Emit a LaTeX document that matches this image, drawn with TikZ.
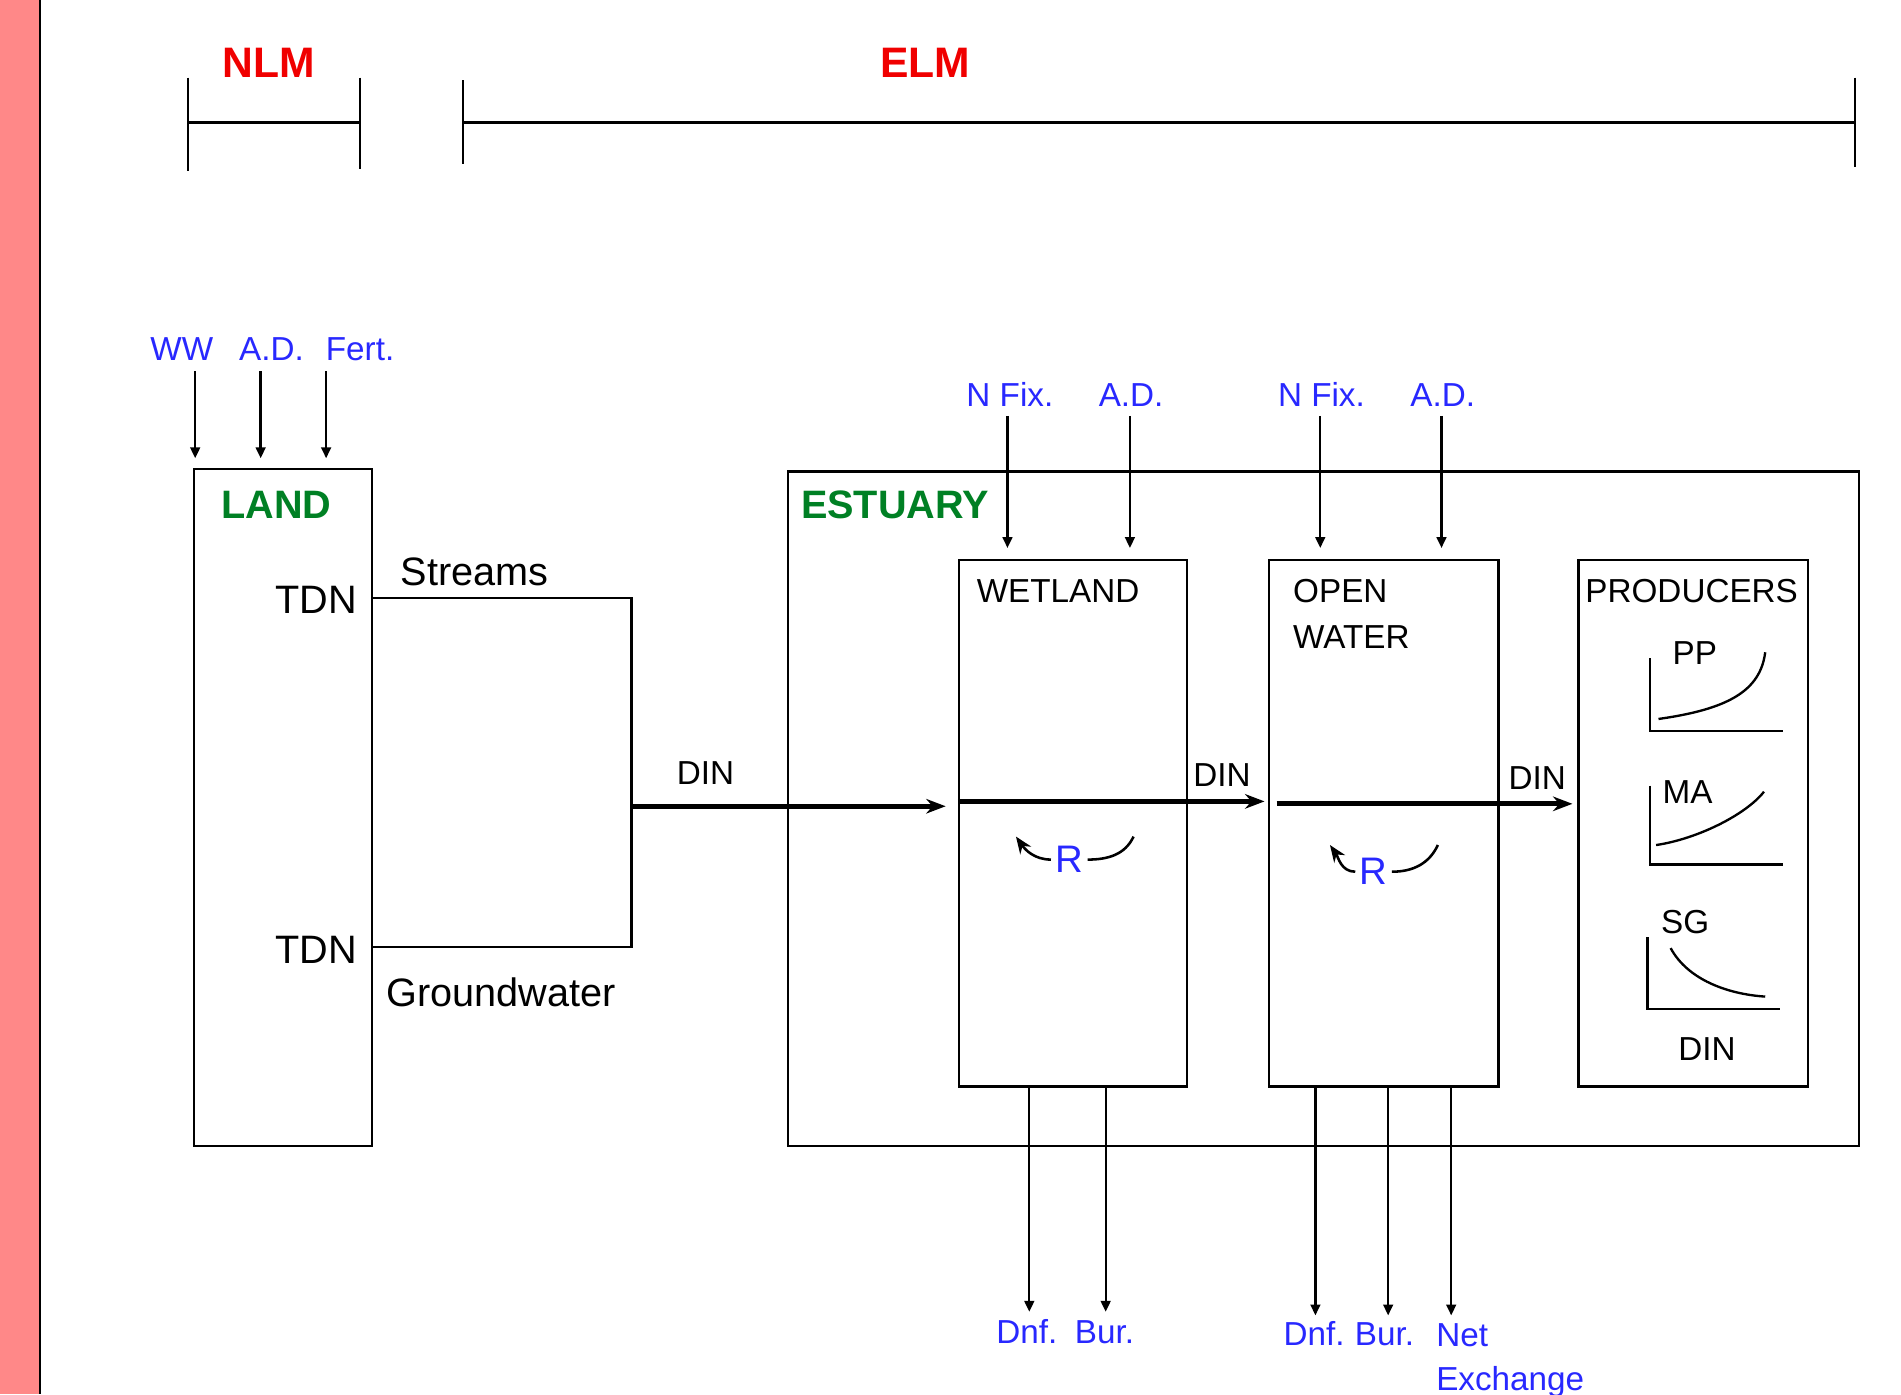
\documentclass[tikz,border=0pt]{standalone}
\usepackage{fontspec}
\setmainfont{Liberation Sans}
\usetikzlibrary{arrows.meta, positioning, calc}

\definecolor{bandpink}{RGB}{255,136,136}
\definecolor{modelred}{RGB}{240,0,0}
\definecolor{poolgreen}{RGB}{0,128,36}
\definecolor{fluxblue}{RGB}{40,40,255}

\begin{document}
\begin{tikzpicture}[x=0.01cm, y=-0.01cm,
        box/.style={rectangle, draw=black, line width=0.55pt, inner sep=0pt, anchor=north west},
        lbl/.style={font=\fontsize{7.8}{9}\selectfont, inner sep=0pt, anchor=base},
        big/.style={font=\fontsize{9.3}{11}\selectfont, inner sep=0pt},
        flux/.style={lbl, text=fluxblue},
        pool/.style={font=\fontsize{9.3}{11}\selectfont\bfseries, text=poolgreen, inner sep=0pt, anchor=base west},
        model/.style={font=\fontsize{10}{12}\selectfont\bfseries, text=modelred, inner sep=0pt, anchor=base},
        thin line/.style={line width=0.55pt},
        inflow/.style={-{Triangle[length=0.9mm, width=0.8mm]}, line width=0.55pt},
        flow/.style={-{Stealth[length=1.6mm, width=1.2mm]}, line width=1.2pt},
        recyc/.style={-{Stealth[length=1.4mm, width=1.1mm]}, line width=0.6pt},
    ]
    \useasboundingbox (0,0) rectangle (1568,1150);
    \fill[bandpink] (0,0) rectangle (33,1150);
    \draw[line width=0.6pt] (33,0) -- (33,1150);

    % model extents
    \node[model] (nlm) at (222,64) {NLM};
    \node[model] (elm) at (763,64) {ELM};
    \draw[thin line] (155,64) -- (155,141);
    \draw[thin line] (297,64) -- (297,139);
    \draw[thin line] (155,101) -- (297,101);
    \draw[thin line] (382,66) -- (382,135);
    \draw[thin line] (1530,64) -- (1530,138);
    \draw[thin line] (382,101) -- (1530,101);

    % boxes
    \node[box, minimum width=1.47cm, minimum height=5.58cm] (land) at (159,386) {};
    \node[box, minimum width=8.83cm, minimum height=5.56cm] (est) at (649,388) {};
    \node[box, minimum width=1.88cm, minimum height=4.34cm] (wet) at (790,461) {};
    \node[box, minimum width=1.89cm, minimum height=4.34cm] (ow) at (1046,461) {};
    \node[box, minimum width=1.89cm, minimum height=4.34cm] (prod) at (1301,461) {};

    \node[pool] (landlbl) at (182,428) {LAND};
    \node[pool] (estlbl) at (660,428) {ESTUARY};
    \node[lbl, anchor=base west] (wetlbl) at (805,497) {WETLAND};
    \node[lbl, anchor=base west] (owlbl) at (1066,497) {OPEN};
    \node[lbl, anchor=base west] (owlbl2) at (1066,535) {WATER};
    \node[lbl, anchor=base west] (prodlbl) at (1307,497) {PRODUCERS};

    % inputs to land
    \node[flux] (ww) at (150,297) {WW};
    \node[flux] (adland) at (224,297) {A.D.};
    \node[flux] (fert) at (297,297) {Fert.};
    \coordinate (wwin) at (161,306);
    \coordinate (adin) at (215,306);
    \coordinate (fertin) at (269,306);
    \draw[inflow, shorten >=0.8mm] (wwin) -- (wwin |- land.north);
    \draw[inflow, shorten >=0.8mm] (adin) -- (adin |- land.north);
    \draw[inflow, shorten >=0.8mm] (fertin) -- (fertin |- land.north);

    % streams and groundwater
    \node[big, anchor=base east] (tdnup) at (295,506) {TDN};
    \node[big, anchor=base east] (tdnlow) at (295,795) {TDN};
    \node[big, anchor=base west] (stream) at (330,483) {Streams};
    \node[big, anchor=base west] (gw) at (318,830) {Groundwater};
    \coordinate (sup) at (521,493);
    \coordinate (gdown) at (521,781);
    \coordinate (junc) at (521,665);
    \draw[thin line] (land.east |- sup) -- (sup) -- (gdown) -- (land.east |- gdown);
    \draw[flow, shorten >=1mm] (junc) -- (wet.west |- junc);
    \node[lbl] (din1) at (582,647) {DIN};

    % inputs to estuary
    \node[flux] (nfixw) at (833,335) {N Fix.};
    \node[flux] (adw) at (933,335) {A.D.};
    \node[flux] (nfixo) at (1090,335) {N Fix.};
    \node[flux] (ado) at (1190,335) {A.D.};
    \coordinate (nfixwin) at (831,343);
    \coordinate (adwin) at (932,343);
    \coordinate (nfixoin) at (1089,343);
    \coordinate (adoin) at (1189,343);
    \draw[inflow, shorten >=0.9mm] (nfixwin) -- (nfixwin |- wet.north);
    \draw[inflow, shorten >=0.9mm] (adwin) -- (adwin |- wet.north);
    \draw[inflow, shorten >=0.9mm] (nfixoin) -- (nfixoin |- ow.north);
    \draw[inflow, shorten >=0.9mm] (adoin) -- (adoin |- ow.north);

    % DIN through the estuary
    \coordinate (dinw) at (790,661);
    \coordinate (dino) at (1053,663);
    \draw[flow, shorten >=0.3mm] (dinw) -- (ow.west |- dinw);
    \draw[flow, shorten >=0.4mm] (dino) -- (prod.west |- dino);
    \node[lbl] (din2) at (1008,649) {DIN};
    \node[lbl] (din3) at (1268,651) {DIN};

    % recycling
    \node[flux, font=\fontsize{9}{10}\selectfont, anchor=center] (rwet) at (882,709) {R};
    \node[flux, font=\fontsize{9}{10}\selectfont, anchor=center] (row) at (1133,719) {R};
    \draw[line width=0.6pt] (935,690) to[out=-115, in=0] ([xshift=0.03cm]rwet.east);
    \draw[recyc] ([xshift=-0.03cm]rwet.west) to[out=180, in=-55] (838,690);
    \draw[line width=0.6pt] (1186,697) to[out=-115, in=0] ([xshift=0.03cm]row.east);
    \draw[recyc] ([xshift=-0.03cm]row.west) to[out=180, in=-55] (1097,697);

    % producer responses
    \node[lbl] (pp) at (1398,548) {PP};
    \node[lbl] (ma) at (1392,663) {MA};
    \node[lbl] (sg) at (1390,770) {SG};
    \node[lbl] (dinp) at (1408,875) {DIN};
    \draw[thin line] (1361,543) -- (1361,603) -- (1471,603);
    \draw[thin line] (1361,648) -- (1361,713) -- (1471,713);
    \draw[thin line] (1359,773) -- (1359,832) -- (1468,832);
    \draw[thin line] (1368,593) .. controls (1425,585) and (1452,570) .. (1456,538);
    \draw[thin line] (1366,697) .. controls (1400,692) and (1440,672) .. (1455,653);
    \draw[thin line] (1378,782) .. controls (1392,808) and (1425,820) .. (1456,822);

    % losses
    \coordinate (dnfw) at (849,1082);
    \coordinate (burw) at (912,1082);
    \coordinate (dnfo) at (1085,1085);
    \coordinate (buro) at (1145,1085);
    \coordinate (neto) at (1197,1085);
    \draw[inflow] (dnfw |- wet.south) -- (dnfw);
    \draw[inflow] (burw |- wet.south) -- (burw);
    \draw[inflow] (dnfo |- ow.south) -- (dnfo);
    \draw[inflow] (buro |- ow.south) -- (buro);
    \draw[inflow] (neto |- ow.south) -- (neto);
    \node[flux] (dnfwl) at (847,1108) {Dnf.};
    \node[flux] (burwl) at (911,1108) {Bur.};
    \node[flux] (dnfol) at (1084,1110) {Dnf.};
    \node[flux] (burol) at (1142,1110) {Bur.};
    \node[flux, anchor=base west] (netl) at (1184,1111) {Net};
    \node[flux, anchor=base west] (exchl) at (1184,1147) {Exchange};
\end{tikzpicture}
\end{document}
